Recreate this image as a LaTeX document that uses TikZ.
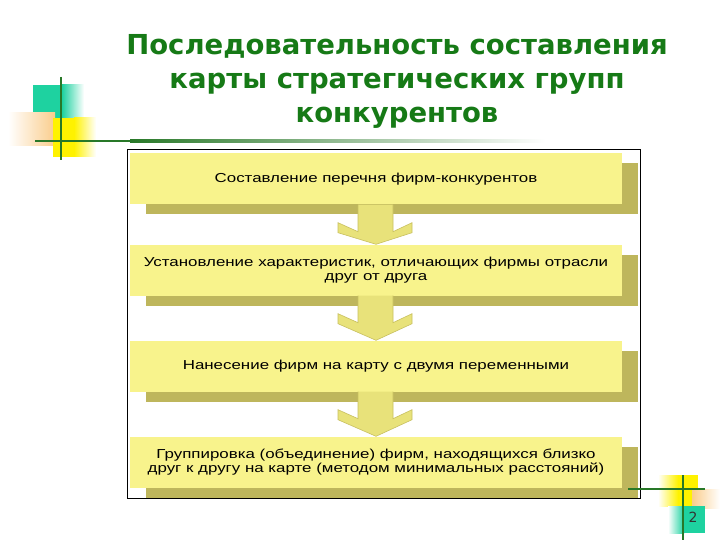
\documentclass[tikz,border=0pt]{standalone}
\usepackage{fontspec}
\setmainfont{DejaVu Sans}
\newfontfamily\titlefont{DejaVu Sans}
\newfontfamily\boxfont[FakeStretch=1.3]{Liberation Sans}
\usetikzlibrary{calc,shadows}
\definecolor{boxyellow}{RGB}{248,243,140}
\definecolor{shadowolive}{RGB}{190,182,92}
\definecolor{arrowyellow}{RGB}{232,226,122}
\definecolor{arrowedge}{RGB}{200,192,96}
\definecolor{titlegreen}{RGB}{22,122,22}
\definecolor{linegreen}{RGB}{40,120,40}
\definecolor{decoteal}{RGB}{30,210,160}
\definecolor{decoorange}{RGB}{250,205,140}
\definecolor{decoyellow}{RGB}{255,242,0}
\begin{document}
\begin{tikzpicture}[x=1pt,y=-1pt,
  stepbox/.style={fill=boxyellow, minimum width=492pt, minimum height=51pt, inner sep=0pt,
    align=center, font=\boxfont\fontsize{13}{14.5}\selectfont,
    drop shadow={shadow xshift=16pt, shadow yshift=-10pt, fill=shadowolive, opacity=1}},
  barrow/.style={fill=arrowyellow, draw=arrowedge, line width=0.6pt},
  decoline/.style={draw=linegreen, line width=2.5pt}]
\useasboundingbox (0,0) rectangle (720,540);
\fill[white] (0,0) rectangle (720,540);

% top-left decoration
\fill[decoteal] (33,85) rectangle (62,118);
\shade[left color=decoteal, right color=white] (62,85) rectangle (84,118);
\shade[left color=white, right color=decoorange] (8,113) rectangle (55,146);
\fill[decoyellow] (53,118) rectangle (74,157);
\shade[left color=decoyellow, right color=white] (74,118) rectangle (96,157);
\draw[decoline] (61,77) -- (61,160);
\draw[decoline] (35,141) -- (130,141);
\shade[left color=linegreen, right color=white] (130,139.75) rectangle (545,142.25);

% title
\node[font=\titlefont\bfseries\fontsize{27.5}{34}\selectfont, text=titlegreen, align=center] (title) at (397,81)
  {Последовательность составления\\карты стратегических групп\\конкурентов};

% frame
\draw[black, line width=1pt] (127,150) rectangle (640,498);

% boxes
\node[stepbox] (b1) at (376,179) {Составление перечня фирм-конкурентов};
\node[stepbox] (b2) at (376,270) {Установление характеристик, отличающих фирмы отрасли\\друг от друга};
\node[stepbox] (b3) at (376,366) {Нанесение фирм на карту с двумя переменными};
\node[stepbox] (b4) at (376,462) {Группировка (объединение) фирм, находящихся близко\\друг к другу на карте (методом минимальных расстояний)};

% block arrows
\foreach \a/\b in {b1/b2, b2/b3, b3/b4}{
  \filldraw[barrow] ($(\a.south)+(17,0)$) -- ($(\a.south)+(17,27)$) -- ($(\a.south)+(36,18)$)
    -- ($(\a.south)+(36,28)$) -- (\b.north) -- ($(\a.south)+(-38,28)$) -- ($(\a.south)+(-38,18)$)
    -- ($(\a.south)+(-18,27)$) -- ($(\a.south)+(-18,0)$);
}

% bottom-right decoration
\shade[left color=white, right color=decoyellow] (658,475) rectangle (678,506);
\fill[decoyellow] (678,475) rectangle (698,506);
\shade[left color=decoorange, right color=white] (692,489) rectangle (720,508);
\shade[left color=white, right color=decoteal] (668,506) rectangle (684,533);
\fill[decoteal] (684,506) rectangle (705,533);
\draw[decoline] (683,475) -- (683,540);
\draw[decoline] (628,489) -- (705,489);
\node[font=\fontsize{14}{16}\selectfont, text=black!80] (num) at (693,517) {2};
\end{tikzpicture}
\end{document}
